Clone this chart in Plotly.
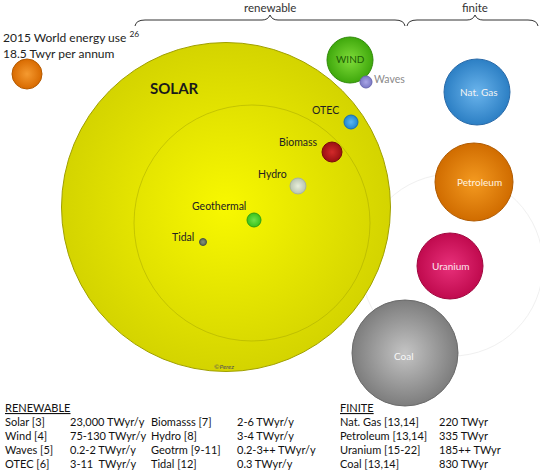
import plotly.graph_objects as go

# --- data -------------------------------------------------------------
bubble_names = ["World", "Solar", "Wind", "Waves", "OTEC", "Biomass", "Hydro",
                "Geothermal", "Tidal", "Nat. Gas", "Petroleum", "Uranium", "Coal"]
bubble_labels = ["", "SOLAR", "WIND", "Waves", "OTEC", "Biomass", "Hydro",
                 "Geothermal", "Tidal", "Nat. Gas", "Petroleum", "Uranium", "Coal"]

renewable_refs = ["Solar [3]", "Wind [4]", "Waves [5]", "OTEC [6]"]
renewable_vals = ["23,000 TWyr/y", "75-130 TWyr/y", "0.2-2 TWyr/y", "3-11  TWyr/y"]
renewable_refs2 = ["Biomasss [7]", "Hydro [8]", "Geotrm [9-11]", "Tidal [12]"]
renewable_vals2 = ["2-6 TWyr/y", "3-4 TWyr/y", "0.2-3++ TWyr/y", "0.3 TWyr/y"]
finite_refs = ["Nat. Gas [13,14]", "Petroleum [13,14]", "Uranium [15-22]", "Coal [13,14]"]
finite_vals = ["220 TWyr", "335 TWyr", "185++ TWyr", "830 TWyr"]

world_use = "2015 World energy use <sup>26</sup><br>18.5 Twyr per annum"

# --- layout of the bubbles (pixel space) ------------------------------
cx = [27, 226, 350, 366, 351, 332, 298, 254, 203, 477, 474, 450, 405]
cy = [74, 207, 60, 82, 122, 152, 186, 220, 242, 92, 182, 266, 353]
diam = [30, 329, 46, 12, 14, 20, 16, 14, 7, 66, 78, 66, 106]
edge = ["#d86a00", "#d4d400", "#3fa80c", "#7a78c4", "#1f86cf", "#9a0f12", "#b8c4ae",
        "#39c21c", "#5d6a55", "#2c7fc4", "#d06c00", "#c00a4e", "#7d7d7d"]
center = ["#f59a30", "#f8f800", "#80dc3a", "#a9a6e6", "#5bb7f0", "#d22a2a", "#e8eedc",
          "#6fe24a", "#85927a", "#6ab4ec", "#f49a20", "#e8307a", "#c4c4c4"]
outline = ["#b45a00", "#a0a000", "#2f8a08", "#6a68b0", "#1a70b0", "#7a0a0a", "#a8b49c",
           "#2ea015", "#4a5545", "#2a6aa8", "#b05a00", "#a0083f", "#6a6a6a"]

fig = go.Figure()

# faint guide ring round the finite group
fig.add_trace(go.Scatter(
    x=[452], y=[265], mode="markers", hoverinfo="skip",
    marker=dict(size=182, color="rgba(0,0,0,0)", line=dict(color="#f0f0f0", width=1)),
))

# geothermal glow
fig.add_trace(go.Scatter(
    x=[cx[7]], y=[cy[7]], mode="markers", hoverinfo="skip",
    marker=dict(size=34, color="rgba(240,250,0,0)",
                gradient=dict(type="radial", color="rgba(110,220,40,0.55)"),
                line=dict(width=0)),
))

for i, name in enumerate(bubble_names):
    fig.add_trace(go.Scatter(
        x=[cx[i]], y=[cy[i]], mode="markers", name=name, hoverinfo="name",
        marker=dict(size=diam[i], color=edge[i],
                    gradient=dict(type="radial", color=center[i]),
                    line=dict(color=outline[i], width=1)),
    ))
    if name == "Solar":
        # inner ring sits on top of the solar disc
        fig.add_trace(go.Scatter(
            x=[252], y=[223], mode="markers", hoverinfo="skip",
            marker=dict(size=236, color="rgba(0,0,0,0)",
                        line=dict(color="rgba(160,160,0,0.45)", width=1)),
        ))

FONT = "Lato, Open Sans, sans-serif"
ann = []


def txt(x, y, s, size=12, color="#222", xanchor="left", **kw):
    ann.append(dict(x=x, y=y, text=s, showarrow=False, xanchor=xanchor, yanchor="middle",
                    font=dict(family=FONT, size=size, color=color), **kw))


# bubble labels
txt(174, 88, "<b>SOLAR</b>", 15, "#1a1a1a", "center")
txt(350, 59, "WIND", 10, "#1d5c05", "center")
txt(372, 79, bubble_labels[3], 10.5, "#8a8a8a")
txt(341, 110, bubble_labels[4], 10.5, "#222", "right")
txt(320, 142, bubble_labels[5], 10.5, "#222", "right")
txt(289, 174, bubble_labels[6], 10.5, "#222", "right")
txt(248, 206, bubble_labels[7], 10.5, "#222", "right")
txt(196, 237, bubble_labels[8], 10.5, "#222", "right")
txt(224, 366, "<i>©Perez</i>", 6.5, "#555", "center")
txt(478, 92, bubble_labels[9], 10, "#f4f4f4", "center")
txt(479, 182, bubble_labels[10], 10, "#fff4e0", "center")
txt(451, 266, bubble_labels[11], 10, "#fbe6ee", "center")
txt(404, 356, bubble_labels[12], 10, "#f8f8f8", "center")

# header text
txt(1, 45, world_use, 12, "#222", align="left")
txt(270, 7, "renewable", 11.5, "#333", "center")
txt(475, 7, "finite", 11.5, "#333", "center")

# table
rows_y = [421, 435, 449, 463]
txt(3, 407, "<u>RENEWABLE</u>", 11, "#111")
txt(338, 407, "<u>FINITE</u>", 11, "#111")
for j, ry in enumerate(rows_y):
    txt(3, ry, renewable_refs[j], 11, "#111")
    txt(68, ry, renewable_vals[j], 11, "#111")
    txt(149, ry, renewable_refs2[j], 11, "#111")
    txt(235, ry, renewable_vals2[j], 11, "#111")
    txt(338, ry, finite_refs[j], 11, "#111")
    txt(437, ry, finite_vals[j], 11, "#111")

# braces
brace_style = dict(type="path", line=dict(color="#333", width=1), xref="x", yref="y")
shapes = [
    dict(path="M135,26 Q136,20 145,20 L262,20 Q268,20 270,15 Q272,20 278,20 "
              "L395,20 Q404,20 405,26", **brace_style),
    dict(path="M407,26 Q408,20 417,20 L467,20 Q473,20 475,15 Q477,20 483,20 "
              "L528,20 Q537,20 538,26", **brace_style),
]

fig.update_layout(
    width=540, height=470,
    margin=dict(l=0, r=0, t=0, b=0),
    paper_bgcolor="white", plot_bgcolor="white",
    showlegend=False,
    annotations=ann, shapes=shapes,
    xaxis=dict(range=[0, 540], visible=False, fixedrange=True),
    yaxis=dict(range=[470, 0], visible=False, fixedrange=True),
)
fig.write_html("out.html", config={"displayModeBar": False},
               post_script="document.body.style.margin='0';")
